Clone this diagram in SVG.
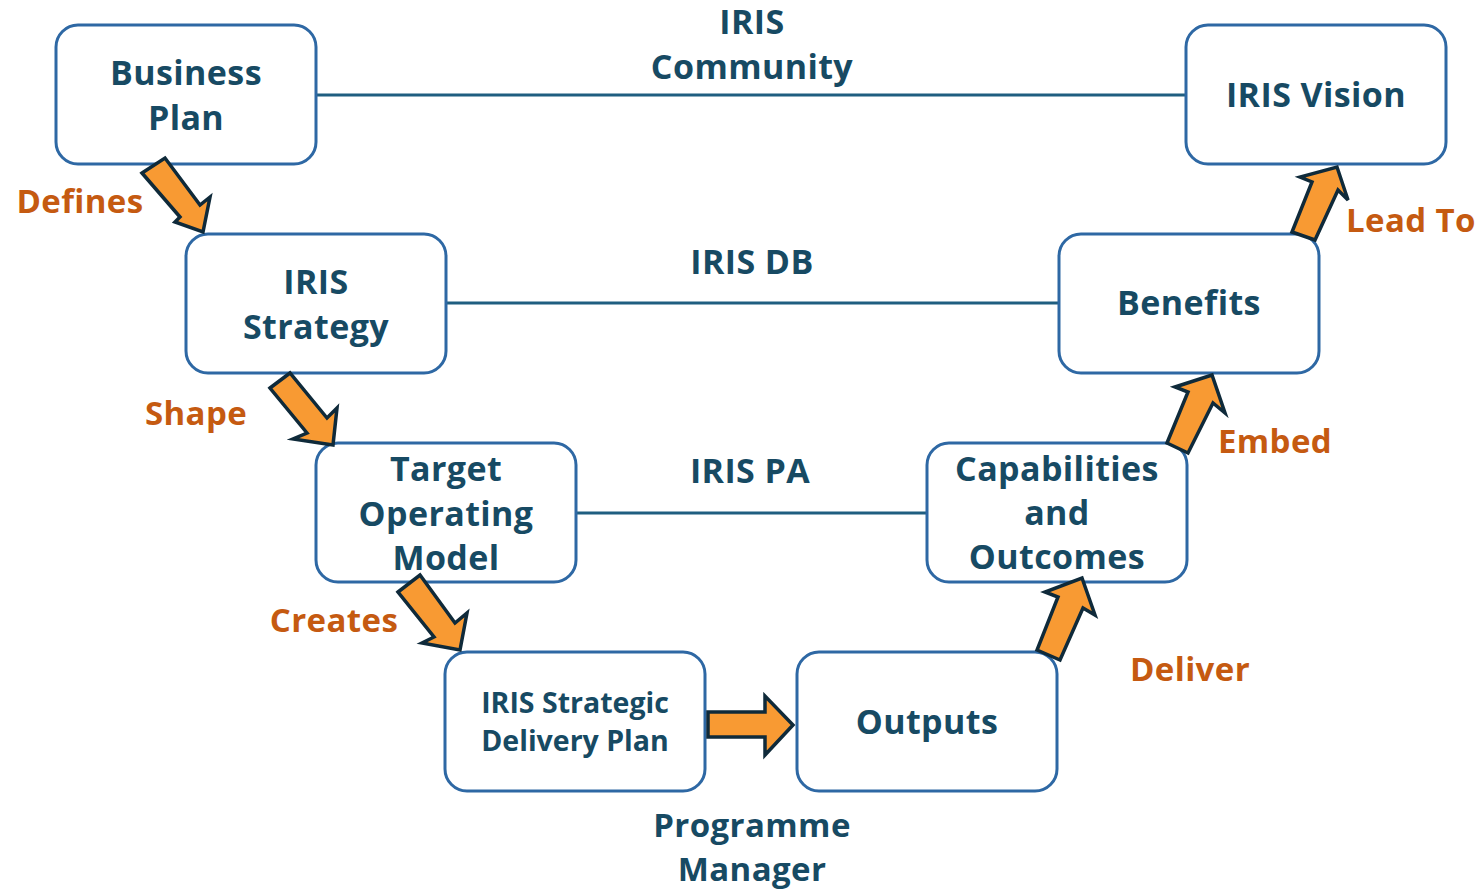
<svg xmlns="http://www.w3.org/2000/svg" width="1483" height="891" viewBox="0 0 1483 891">
<style>
.box{fill:#fff;stroke:#2E68A4;stroke-width:3}
.t{font-family:"Open Sans","Liberation Sans",sans-serif;font-weight:700;font-size:34px;letter-spacing:0.4px;fill:#174A63;text-anchor:middle}
.s{font-size:28.5px;letter-spacing:0}
.pm{font-size:33px}
.lbl{font-family:"Open Sans","Liberation Sans",sans-serif;font-weight:700;font-size:33px;letter-spacing:0.4px;fill:#C55A11;text-anchor:middle}
.ln{stroke:#1F5E80;stroke-width:3;fill:none}
.ar{fill:#F89A33;stroke:#0F2A3A;stroke-width:3.5;stroke-linejoin:miter}
</style>
<rect width="1483" height="891" fill="#fff"/>
<g id="connectors">
<line class="ln" x1="316" y1="95" x2="1186" y2="95"/>
<line class="ln" x1="446" y1="303" x2="1059" y2="303"/>
<line class="ln" x1="576" y1="513" x2="927" y2="513"/>
</g>
<g id="node-business-plan"><rect class="box" x="56" y="25" width="260" height="139" rx="22"/><text class="t" x="186" y="85">Business</text><text class="t" x="186" y="130">Plan</text></g>
<g id="node-iris-vision"><rect class="box" x="1186" y="25" width="260" height="139" rx="22"/><text class="t" x="1316" y="107">IRIS Vision</text></g>
<g id="node-iris-strategy"><rect class="box" x="186" y="234" width="260" height="139" rx="22"/><text class="t" x="316" y="294">IRIS</text><text class="t" x="316" y="339">Strategy</text></g>
<g id="node-benefits"><rect class="box" x="1059" y="234" width="260" height="139" rx="22"/><text class="t" x="1189" y="315">Benefits</text></g>
<g id="node-tom"><rect class="box" x="316" y="443" width="260" height="139" rx="22"/><text class="t" x="446" y="481">Target</text><text class="t" x="446" y="526">Operating</text><text class="t" x="446" y="570">Model</text></g>
<g id="node-capabilities"><rect class="box" x="927" y="443" width="260" height="139" rx="22"/><text class="t" x="1057" y="481">Capabilities</text><text class="t" x="1057" y="525">and</text><text class="t" x="1057" y="569">Outcomes</text></g>
<g id="node-sdp"><rect class="box" x="445" y="652" width="260" height="139" rx="22"/><text class="t s" x="575" y="713">IRIS Strategic</text><text class="t s" x="575" y="751">Delivery Plan</text></g>
<g id="node-outputs"><rect class="box" x="797" y="652" width="260" height="139" rx="22"/><text class="t" x="927" y="734">Outputs</text></g>
<g id="group-labels">
<text class="t" x="752" y="34">IRIS</text>
<text class="t" x="752" y="79">Community</text>
<text class="t" x="752" y="274">IRIS DB</text>
<text class="t" x="750" y="483">IRIS PA</text>
<text class="t pm" x="752" y="837">Programme</text>
<text class="t pm" x="752" y="881">Manager</text>
</g>
<g id="arrows">
<polygon class="ar" points="142,173 165,158 200,205 210,197 203,232 175,222 180,217"/>
<polygon class="ar" points="270,388 290,373 327,418 337,408 333,445 293,439 307,433"/>
<polygon class="ar" points="398,592 420,575 455,623 467,613 460,650 422,643 434,637"/>
<polygon class="ar" points="708,712 765,712 765,696 793,725 765,755 765,737 708,737"/>
<polygon class="ar" points="1037,650 1060,660 1083,608 1095,615 1082,578 1045,592 1058,597"/>
<polygon class="ar" points="1167,443 1188,453 1213,403 1225,413 1212,375 1175,387 1188,392"/>
<polygon class="ar" points="1292,232 1315,240 1338,190 1348,200 1337,167 1300,177 1312,182"/>
</g>
<g id="arrow-labels">
<text class="lbl" x="80" y="213">Defines</text>
<text class="lbl" x="196" y="425">Shape</text>
<text class="lbl" x="334" y="632">Creates</text>
<text class="lbl" x="1190" y="681">Deliver</text>
<text class="lbl" x="1275" y="453">Embed</text>
<text class="lbl" x="1411" y="232">Lead To</text>
</g>
</svg>
